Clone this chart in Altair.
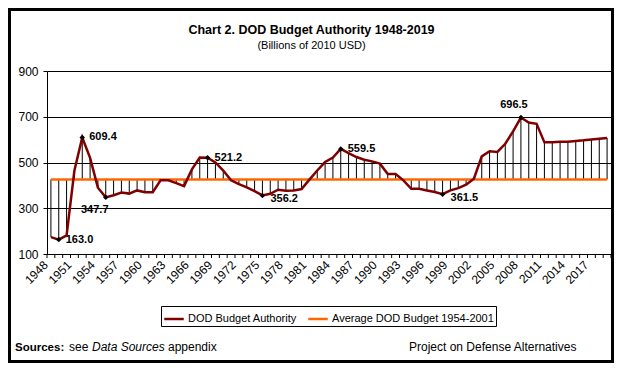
import altair as alt
import pandas as pd

# ---------------- data ----------------
YEARS = list(range(1948, 2020))
BUDGET = [
    174, 163.0, 181, 465, 609.4, 520, 390, 347.7, 357, 369,      # 1948-1957
    364, 378, 370, 370, 422, 422, 410, 397, 470, 522,            # 1958-1967
    521.2, 500, 465, 422, 405, 391, 375, 356.2, 363, 381,        # 1968-1977
    377, 378, 384, 425, 465, 502, 522, 559.5, 541, 524,          # 1978-1987
    512, 505, 495, 450, 450, 422, 385, 385, 378, 371,            # 1988-1997
    361.5, 378, 388, 403, 429, 527, 549, 546, 582, 636,          # 1998-2007
    696.5, 675, 669, 588, 588, 591, 591, 594, 597, 601,          # 2008-2017
    604, 607,                                                    # 2018-2019
]
AVERAGE = 426.0
SERIES = ["DOD Budget Authority", "Average DOD Budget 1954-2001"]
SERIES_COLORS = ["#800000", "#FF6600"]
X_LABEL_YEARS = list(range(1948, 2018, 3))
Y_TICKS = [100, 300, 500, 700, 900]
LABELS_RIGHT = [1949, 1952, 1968, 1985]
LABELS_RIGHT_BELOW = [1975, 1998]
LABELS_BELOW = [1955]
LABELS_ABOVE = [2008]

TITLE = "Chart 2. DOD Budget Authority 1948-2019"
SUBTITLE = "(Billions of 2010 USD)"

# ---------------- tables ----------------
df = pd.DataFrame({"year": YEARS, "value": BUDGET, "avg": [AVERAGE] * len(YEARS)})
long = pd.concat([
    pd.DataFrame({"year": YEARS, "value": BUDGET, "series": SERIES[0]}),
    pd.DataFrame({"year": YEARS, "value": [AVERAGE] * len(YEARS), "series": SERIES[1]}),
])
tick_df = pd.DataFrame({"year": [y - 0.5 for y in YEARS] + [YEARS[-1] + 0.5]})
one = pd.DataFrame({"a": [0]})

FONT = "Liberation Sans, Arial, sans-serif"
W, H = 564, 183

x_scale = alt.Scale(domain=[YEARS[0] - 0.5, YEARS[-1] + 0.5], nice=False, zero=False)
y_scale = alt.Scale(domain=[100, 900], nice=False, zero=False)

x_axis = alt.Axis(values=X_LABEL_YEARS, format="d", labelAngle=-45, ticks=False,
                  grid=False, domainColor="black", labelColor="black", labelFont=FONT,
                  labelFontSize=12, labelPadding=5, labelOffset=-9, title=None,
                  labelOverlap=False)
y_axis = alt.Axis(values=Y_TICKS, grid=True, gridColor="black", gridWidth=1,
                  gridOpacity=1, domainColor="black", tickColor="black", tickSize=4,
                  labelFont=FONT, labelFontSize=12, labelColor="black",
                  labelPadding=5, title=None)

X = alt.X("year:Q", scale=x_scale, axis=x_axis)
Y = alt.Y("value:Q", scale=y_scale, axis=y_axis)

color = alt.Color("series:N",
                  scale=alt.Scale(domain=SERIES, range=SERIES_COLORS),
                  legend=alt.Legend(title=None, orient="none", legendX=114, legendY=235,
                                    direction="horizontal", symbolType="stroke",
                                    symbolSize=380, symbolStrokeWidth=2.5,
                                    labelFont=FONT, labelFontSize=11, labelColor="black",
                                    labelOffset=3, columnPadding=6, padding=2,
                                    strokeColor="black", fillColor="white",
                                    labelLimit=400))

ticks = alt.Chart(tick_df).mark_rule(color="black", strokeWidth=1).encode(
    x=X, y=alt.value(H), y2=alt.value(H + 4))

drops = alt.Chart(df).mark_rule(color="black", strokeWidth=1).encode(
    x=X, y=Y, y2="avg:Q")

avg_line = alt.Chart(long).transform_filter(alt.datum.series == SERIES[1]).mark_line(
    strokeWidth=2.5).encode(x=X, y=Y, color=color)

dod_line = alt.Chart(long).transform_filter(alt.datum.series == SERIES[0]).mark_line(
    strokeWidth=2.5).encode(x=X, y=Y, color=color)

all_lab = LABELS_RIGHT + LABELS_RIGHT_BELOW + LABELS_BELOW + LABELS_ABOVE
markers = alt.Chart(df).transform_filter(
    alt.FieldOneOfPredicate(field="year", oneOf=all_lab)
).mark_point(shape="diamond", filled=True, color="black", size=30, opacity=1).encode(x=X, y=Y)


def labels(years, **kw):
    return alt.Chart(df).transform_filter(
        alt.FieldOneOfPredicate(field="year", oneOf=years)
    ).mark_text(font=FONT, fontSize=11, fontWeight="bold", color="black",
                baseline="middle", **kw).encode(
        x=X, y=Y, text=alt.Text("value:Q", format=".1f"))


lab_r = labels(LABELS_RIGHT, align="left", dx=7, dy=0)
lab_rb = labels(LABELS_RIGHT_BELOW, align="left", dx=8, dy=4)
lab_b = labels(LABELS_BELOW, align="center", dx=-11, dy=13)
lab_a = labels(LABELS_ABOVE, align="center", dx=-7, dy=-13)

# outer frame of the whole figure
frame = alt.Chart(one).mark_rect(fill=None, stroke="black", strokeWidth=3).encode(
    x=alt.value(-37.5), x2=alt.value(565.5), y=alt.value(-61.5), y2=alt.value(290.5))


def note(text, x, y, size=12, align="left", **kw):
    return alt.Chart(one).mark_text(font=FONT, fontSize=size, color="black", align=align,
                                    baseline="alphabetic", **kw).encode(
        x=alt.value(x), y=alt.value(y), text=alt.value(text))


notes = [
    note(TITLE, 264.5, -37.5, size=12.5, align="center", fontWeight="bold"),
    note(SUBTITLE, 264.5, -22, size=11, align="center"),
    note("Sources:", -32, 280, size=11.5, fontWeight="bold"),
    note("see", 22, 280),
    note("Data Sources", 45, 280, fontStyle="italic"),
    note("appendix", 121, 280),
    note("Project on Defense Alternatives", 362, 280),
]

chart = alt.layer(
    ticks, drops, avg_line, dod_line, markers, lab_r, lab_rb, lab_b, lab_a, frame, *notes
).properties(
    width=W, height=H,
    autosize=alt.AutoSizeParams(type="none"),
    padding={"left": 39, "top": 63, "right": 3, "bottom": 109},
).configure_view(stroke="black", strokeWidth=1).configure(background="white")

chart.save("out.html", embed_options={"renderer": "svg", "actions": False})
